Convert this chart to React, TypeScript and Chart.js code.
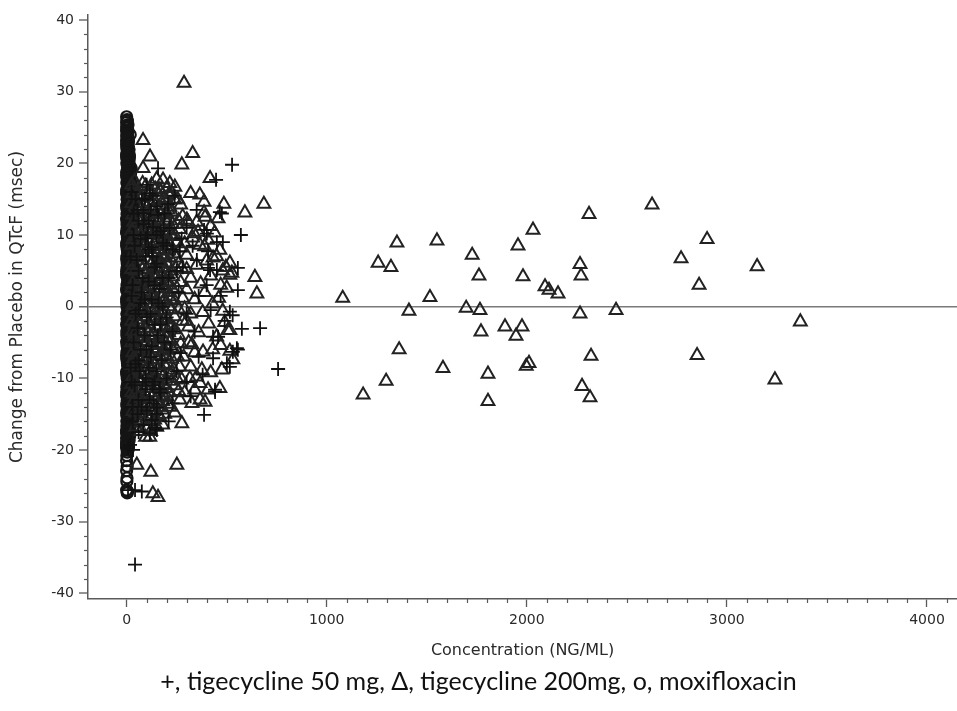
import React, { useEffect, useRef } from 'react';
import { Chart, registerables } from 'chart.js';

Chart.register(...registerables);

// ---- data ----
const xTickValues = [0, 1000, 2000, 3000, 4000];
const yTickValues = [-40, -30, -20, -10, 0, 10, 20, 30, 40];
const xMinorStep = 100;
const yMinorStep = 2;

const captionText = '+, tigecycline 50 mg, \u0394, tigecycline 200mg, o, moxifloxacin';
const xTitle = 'Concentration (NG/ML)';
const yTitle = 'Change from Placebo in QTcF (msec)';

// tigecycline 50 mg (+)
const tigecycline50: [number, number][] = [
  [157, 19.3], [527, 19.8], [447, 17.7], [76, 14.9], [207, 14.3], [466, 13.2], [476, 13.0], [387, 10.7],
  [571, 10.0], [401, 10.2], [451, 9.0], [481, 9.0], [126, 8.3], [407, 7.7], [556, 5.4], [451, 5.1],
  [417, 5.1], [407, 5.4], [556, 2.3], [516, -0.7], [530, -1.2], [576, -3.1], [667, -3.0], [457, -4.2],
  [432, -4.2], [556, -6.0], [531, -6.3], [551, -5.8], [432, -7.2], [516, -8.4], [501, -7.9], [757, -8.7],
  [442, -11.6], [442, -11.9], [387, -15.1], [126, -15.8], [142, -16.9], [116, -17.7], [151, -14.1],
  [151, -17.2], [17, -19.3], [7, -19.7], [32, -20.0], [7, -25.6], [42, -25.6], [76, -25.8], [42, -36.0],
  [116, 15.8], [91, 15.1], [157, 12.8], [132, 11.1], [182, 8.9], [351, 6.5], [266, 7.7],
  [60, 12.0], [95, 9.5], [150, 6.0], [210, 4.0], [260, 2.0], [300, -1.0], [340, -3.5], [190, -5.0],
  [120, -7.0], [250, -9.0], [80, -10.5], [170, -12.0], [320, -12.5], [230, -13.5], [60, -13.0],
  [110, 3.5], [70, 0.5], [180, 0.0], [140, -2.5], [360, 1.5], [400, 3.0], [280, 5.5], [230, 8.0],
  [170, 10.5], [300, 11.0], [350, 13.5], [240, 15.5], [100, 17.0], [50, 6.5], [90, -4.0], [45, -8.0],
  [200, -1.5], [380, -9.5], [270, -6.5], [150, 14.0], [330, 8.5], [420, -0.5], [470, 1.5], [490, -2.0],
  [360, -7.0], [300, -10.5], [130, -11.0], [210, -16.0], [100, -14.5],
  [25, 16.0], [55, 13.5], [85, 11.5], [35, 10.0], [110, 8.0], [60, 5.0], [95, 7.0], [140, 5.5],
  [30, 3.0], [75, 2.0], [125, 1.0], [165, 2.5], [45, -1.0], [100, -1.5], [155, -4.0], [35, -5.0],
  [70, -6.0], [110, -8.5], [150, -9.0], [40, -11.0], [95, -11.5], [135, -13.5], [55, -15.0], [85, -16.5],
  [200, -10.0], [220, -6.0], [215, 11.0], [190, 13.0], [130, 15.5], [60, -17.5], [30, -14.0], [250, 5.0],
  [230, -3.5], [275, 9.5], [20, 7.0], [20, -8.5],
  [45, 15.0], [85, 13.0], [120, 13.5], [40, 8.5], [80, 4.0], [130, 7.0], [160, 0.5], [55, -3.0],
  [125, -5.5], [175, -7.5], [65, -9.0], [115, -13.0], [30, -16.0], [150, -15.0], [180, 4.0], [200, 8.5],
  [140, -10.5], [90, 1.0], [60, -0.5], [105, 10.0],
  [35, 13.0], [70, 9.5], [110, 12.0], [150, 10.0], [25, 1.5], [120, -1.0], [170, -2.5], [60, -7.5],
  [100, -6.0], [25, -10.5], [75, -14.0], [165, -11.5], [185, 11.0], [140, 3.0], [95, -10.0],
];

// tigecycline 200 mg (triangles)
const tigecycline200: [number, number][] = [
  // near cluster, outer points
  [287, 31.2], [82, 23.2], [117, 20.9], [82, 19.3], [276, 19.8], [330, 21.4], [182, 17.7], [417, 17.9],
  [366, 15.6], [387, 14.6], [486, 14.3], [686, 14.3], [591, 13.1], [457, 12.3], [387, 13.1], [307, 11.8],
  [216, 13.9], [241, 14.9], [226, 15.8], [166, 16.3], [241, 16.7], [641, 4.1], [651, 1.8], [516, 6.1],
  [516, 4.4], [366, 8.6], [337, 10.2], [466, 7.9], [432, 6.8], [496, 5.5], [216, 17.2], [207, 13.5],
  [357, 10.4], [407, 9.3], [526, 4.7], [392, 12.5], [301, 12.1],
  [516, -3.3], [531, -7.4], [516, -6.2], [476, -8.8], [466, -11.4], [407, -11.6], [367, -13.0],
  [392, -13.3], [326, -13.5], [376, -8.8], [382, -6.3], [316, -10.0], [326, -5.3], [367, -10.7],
  [116, -18.2], [166, -15.4], [216, -14.0], [266, -13.0], [276, -16.3], [251, -22.1], [51, -22.1],
  [121, -23.1], [131, -26.1], [157, -26.6], [182, -14.4], [506, -3.3],
  // near cluster, interior
  [60, 15.5], [140, 14.8], [190, 15.2], [270, 14.2], [320, 15.8], [100, 13.8],
  [50, 12.5], [120, 12.0], [170, 12.8], [230, 11.5], [280, 12.6], [350, 11.8], [420, 11.2], [80, 11.0],
  [45, 9.8], [90, 9.0], [135, 10.2], [185, 9.4], [240, 10.0], [290, 8.8], [330, 9.6], [390, 8.4],
  [440, 10.3], [65, 8.2], [160, 8.0], [215, 8.6],
  [55, 7.0], [105, 6.5], [150, 7.3], [200, 6.0], [250, 6.8], [300, 7.2], [350, 5.8], [400, 6.4],
  [450, 7.0], [80, 5.2], [175, 5.5], [225, 5.0], [275, 5.4], [480, 5.0],
  [45, 4.0], [95, 3.5], [130, 4.4], [180, 3.0], [230, 4.2], [270, 3.4], [320, 4.0], [370, 3.2],
  [420, 4.3], [470, 3.0], [60, 2.2], [150, 2.5], [210, 2.0], [300, 2.4], [390, 2.0], [500, 2.6],
  [50, 1.0], [100, 0.5], [140, 1.3], [190, -0.5], [240, 0.8], [290, -0.3], [340, 1.0], [380, -0.8],
  [430, 0.4], [480, -0.6], [75, -0.8], [215, 1.4], [320, -1.0], [460, 1.2],
  [40, -2.5], [90, -3.0], [130, -2.0], [170, -3.8], [220, -2.6], [260, -4.0], [310, -2.8], [360, -3.6],
  [410, -2.4], [450, -4.2], [490, -2.2], [65, -4.4], [200, -4.4], [280, -2.0],
  [55, -5.5], [105, -6.0], [150, -5.2], [195, -6.8], [245, -5.8], [285, -7.0], [340, -6.4], [430, -6.0],
  [470, -5.4], [80, -7.2], [130, -7.4], [225, -7.3], [310, -5.0],
  [45, -8.5], [95, -9.0], [140, -8.2], [185, -9.6], [235, -8.8], [275, -10.2], [320, -8.4], [350, -9.8],
  [420, -9.2], [70, -10.3], [160, -10.4], [205, -8.0],
  [60, -11.5], [110, -12.0], [150, -11.2], [200, -12.5], [240, -11.0], [290, -12.0], [340, -11.6],
  [90, -13.0], [180, -13.2],
  [70, -14.5], [120, -15.5], [150, -16.8], [100, -17.0], [240, -14.8],
  // near cluster, dense core
  [40, 17.5], [95, 16.8], [150, 17.8], [200, 16.5],
  [30, 15.8], [75, 15.2], [120, 16.0], [165, 15.0], [210, 15.6], [255, 15.0],
  [45, 14.0], [90, 14.4], [130, 13.6], [180, 14.2], [225, 13.2],
  [30, 12.8], [70, 12.2], [110, 13.0], [145, 12.4], [195, 12.0], [260, 12.0],
  [40, 11.0], [100, 11.4], [130, 10.8], [175, 11.2], [215, 10.6], [265, 10.8],
  [30, 9.4], [70, 9.8], [115, 9.0], [160, 9.6], [205, 9.2], [250, 9.0],
  [40, 7.8], [85, 8.2], [125, 7.6], [190, 7.8], [235, 7.4], [270, 8.2],
  [30, 6.2], [70, 6.8], [125, 6.0], [165, 6.4], [215, 6.8], [260, 6.0],
  [45, 5.0], [100, 5.2], [140, 4.6], [200, 4.8], [245, 5.4], [300, 5.2],
  [30, 3.2], [70, 3.8], [110, 2.8], [160, 3.6], [200, 3.4], [250, 2.6],
  [40, 1.8], [85, 2.0], [120, 1.6], [175, 1.8], [230, 2.4], [280, 1.2],
  [30, 0.2], [70, 0.8], [120, -0.2], [160, 0.4], [210, 0.0], [260, -0.4],
  [45, -1.2], [95, -1.4], [145, -0.8], [185, -1.8], [240, -1.4], [300, -2.0],
  [30, -3.4], [65, -2.6], [110, -3.6], [150, -3.0], [195, -3.0], [240, -3.2],
  [45, -4.8], [90, -5.0], [125, -4.4], [175, -5.4], [220, -4.8], [270, -5.2],
  [30, -6.4], [70, -6.2], [115, -6.6], [165, -6.8], [205, -6.0], [255, -7.0],
  [40, -7.8], [90, -7.6], [120, -8.8], [165, -8.2], [215, -9.2], [265, -8.4],
  [30, -9.8], [75, -9.4], [115, -10.2], [140, -9.6], [190, -10.8], [250, -10.0],
  [45, -11.2], [85, -11.8], [130, -12.4], [175, -11.6], [215, -12.0], [260, -11.8],
  [35, -13.2], [75, -12.6], [120, -13.6], [160, -13.4], [205, -13.6],
  [45, -14.8], [90, -14.2], [135, -14.6], [190, -15.0],
  [55, -16.2], [80, -15.8], [120, -17.4], [95, -18.2],
  [35, 16.5], [80, 17.2], [125, 17.0], [170, 16.0], [60, 13.2], [105, 12.0], [155, 13.6], [200, 13.0],
  [35, 11.8], [85, 10.4], [125, 11.6], [165, 10.0], [205, 11.8], [50, 8.8], [100, 8.0], [145, 9.2],
  [180, 8.4], [225, 9.8], [35, 7.4], [80, 7.6], [120, 5.8], [155, 5.4], [190, 7.0], [40, 5.8],
  [90, 4.6], [130, 3.4], [175, 4.2], [215, 3.0], [55, 3.0], [100, 1.8], [150, 1.0], [190, 2.6],
  [35, 1.4], [80, -0.2], [130, 0.4], [175, -0.6], [225, -0.4], [55, -1.8], [110, -2.4], [160, -2.0],
  [205, -1.8], [40, -3.8], [85, -4.2], [135, -4.0], [185, -4.6], [230, -6.0], [55, -6.8], [100, -7.2],
  [145, -6.4], [190, -8.2], [35, -7.2], [80, -8.4], [125, -9.8], [170, -9.0], [225, -10.4], [55, -10.0],
  [100, -10.6], [150, -12.6], [195, -11.4], [40, -12.2], [80, -13.8], [115, -11.4], [165, -14.0],
  [60, -14.2], [105, -15.4], [140, -15.8], [180, -16.5],
  [25, 17.0], [65, 16.2], [110, 15.4], [145, 16.4], [185, 13.4], [25, 14.4], [70, 13.8], [115, 14.6],
  [160, 12.0], [210, 12.4], [25, 10.6], [60, 10.8], [110, 10.2], [150, 10.8], [195, 10.2], [25, 8.6],
  [60, 7.2], [105, 7.6], [140, 8.6], [175, 7.2], [210, 7.8], [25, 5.2], [65, 5.8], [110, 4.2],
  [150, 6.2], [190, 5.4], [25, 2.6], [65, 1.4], [105, 3.4], [145, 3.8], [185, 0.8], [220, 1.0],
  [25, -0.6], [60, -0.2], [100, -0.6], [140, -1.6], [170, -1.2], [215, -2.8], [25, -2.0], [75, -3.6],
  [120, -3.0], [165, -4.6], [210, -3.6], [25, -5.0], [60, -5.4], [105, -4.8], [140, -5.8], [180, -6.2],
  [25, -8.2], [65, -7.6], [110, -8.0], [155, -7.4], [200, -7.0], [25, -10.8], [60, -9.0], [105, -9.4],
  [150, -10.2], [180, -9.8], [25, -12.0], [65, -12.8], [100, -13.4], [140, -12.0], [185, -12.4],
  [30, -14.6], [75, -15.0], [115, -14.0], [160, -15.2], [45, -16.8], [70, -17.4], [130, -16.0],
  // far points
  [1080, 1.2], [1182, -12.3], [1257, 6.1], [1297, -10.4], [1321, 5.5], [1351, 8.9], [1362, -6.0],
  [1411, -0.6], [1516, 1.3], [1551, 9.2], [1581, -8.6], [1697, -0.2], [1727, 7.2], [1761, 4.3],
  [1766, -0.5], [1771, -3.5], [1806, -9.4], [1806, -13.2], [1891, -2.8], [1946, -4.1], [1956, 8.5],
  [1976, -2.8], [1981, 4.2], [1997, -8.3], [2011, -7.9], [2031, 10.7], [2091, 2.8], [2111, 2.3],
  [2156, 1.8], [2266, 5.9], [2271, 4.3], [2266, -1.0], [2276, -11.1], [2311, 12.9], [2316, -12.7],
  [2321, -6.9], [2446, -0.5], [2626, 14.2], [2771, 6.7], [2861, 3.0], [2851, -6.8], [2901, 9.4],
  [3151, 5.6], [3240, -10.2], [3367, -2.1],
];

// moxifloxacin (circles)
const moxifloxacin: [number, number][] = [
  [0, 26.5], [2, 26.1], [0, 25.7], [3, 25.3], [1, 24.9], [0, 24.5], [4, 24.2], [1, 23.8], [6, 23.5],
  [0, 23.1], [3, 22.8], [8, 22.5], [1, 22.1], [5, 21.8], [10, 21.5], [0, 21.2], [7, 20.9], [3, 20.6],
  [12, 20.3], [1, 20.0], [9, 19.7], [5, 19.4], [14, 19.1], [0, 18.8], [11, 18.5], [4, 18.2], [16, 17.9],
  [7, 17.6], [1, 17.3], [13, 17.0], [18, 16.7], [5, 16.4], [10, 16.1], [0, 15.8], [15, 15.5], [20, 15.2],
  [3, 14.9], [8, 14.6], [12, 14.3], [22, 14.0], [1, 13.7], [17, 13.4], [6, 13.1], [25, 12.8], [10, 12.5],
  [0, 12.2], [14, 11.9], [20, 11.6], [4, 11.3], [9, 11.0], [24, 10.7], [1, 10.4], [16, 10.1], [12, 9.8],
  [6, 9.5], [28, 9.2], [0, 8.9], [19, 8.6], [10, 8.3], [3, 8.0], [23, 7.7], [14, 7.4], [7, 7.1],
  [30, 6.8], [1, 6.5], [17, 6.2], [11, 5.9], [4, 5.6], [26, 5.3], [20, 5.0], [8, 4.7], [0, 4.4],
  [14, 4.1], [31, 3.8], [5, 3.5], [22, 3.2], [10, 2.9], [2, 2.6], [18, 2.3], [27, 2.0], [7, 1.7],
  [13, 1.4], [0, 1.1], [24, 0.8], [16, 0.5], [4, 0.2], [29, -0.1], [9, -0.4], [20, -0.7], [1, -1.0],
  [12, -1.3], [25, -1.6], [6, -1.9], [17, -2.2], [0, -2.5], [32, -2.8], [10, -3.1], [21, -3.4],
  [3, -3.7], [14, -4.0], [27, -4.3], [7, -4.6], [0, -4.9], [19, -5.2], [11, -5.5], [24, -5.8],
  [4, -6.1], [15, -6.4], [30, -6.7], [8, -7.0], [1, -7.3], [22, -7.6], [12, -7.9], [5, -8.2],
  [18, -8.5], [26, -8.8], [0, -9.1], [10, -9.4], [20, -9.7], [3, -10.0], [14, -10.3], [28, -10.6],
  [7, -10.9], [1, -11.2], [17, -11.5], [23, -11.8], [9, -12.1], [0, -12.4], [13, -12.7], [25, -13.0],
  [5, -13.3], [19, -13.6], [2, -13.9], [11, -14.2], [22, -14.5], [0, -14.8], [15, -15.1], [6, -15.4],
  [18, -15.7], [1, -16.0], [10, -16.3], [3, -16.6], [14, -16.9], [0, -17.2], [7, -17.5], [2, -17.8],
  [11, -18.1], [0, -18.4], [5, -18.8], [1, -19.2], [0, -19.7], [3, -20.3], [0, -21.5], [0, -22.9],
  [2, -23.9], [0, -25.6], [3, -26.0],
  [4, 25.9], [1, 25.1], [6, 24.6], [2, 23.6], [9, 23.0], [4, 22.3], [12, 21.9], [2, 21.4], [14, 20.8],
  [6, 20.1], [17, 19.6], [9, 19.0], [20, 18.6], [2, 18.0], [15, 17.4], [22, 17.1], [8, 16.6], [24, 16.0],
  [12, 15.6], [3, 15.0], [26, 14.6], [18, 14.2], [10, 13.6], [28, 13.0], [5, 12.6], [21, 12.2], [15, 11.7],
  [27, 11.2], [2, 10.8], [19, 10.3], [30, 9.9], [8, 9.4], [22, 9.0], [15, 8.6], [32, 8.1], [5, 7.6],
  [26, 7.2], [12, 6.7], [21, 6.3], [33, 5.8], [2, 5.4], [16, 4.9], [28, 4.5], [10, 4.0], [24, 3.6],
  [34, 3.1], [6, 2.7], [19, 2.2], [30, 1.8], [12, 1.3], [3, 0.9], [26, 0.4], [33, 0.0], [15, -0.5],
  [7, -0.9], [28, -1.4], [20, -1.8], [3, -2.3], [34, -2.7], [13, -3.2], [24, -3.6], [8, -4.1], [31, -4.5],
  [17, -5.0], [2, -5.4], [27, -5.9], [12, -6.3], [21, -6.8], [33, -7.2], [6, -7.7], [16, -8.1], [29, -8.6],
  [3, -9.0], [24, -9.5], [13, -9.9], [32, -10.4], [8, -10.8], [20, -11.3], [27, -11.7], [4, -12.2],
  [16, -12.6], [29, -13.1], [9, -13.5], [22, -14.0], [3, -14.4], [13, -14.9], [25, -15.3], [7, -15.8],
  [20, -16.2], [2, -16.7], [12, -17.1], [5, -17.6], [16, -18.0], [8, -18.5], [2, -18.9], [10, -19.4],
  [4, -20.0], [1, -20.8], [3, -22.3], [1, -24.4], [5, -25.8],
  [18, 24.0], [9, 23.3], [0, 22.6], [14, 21.1], [4, 20.4], [23, 19.3], [11, 18.9], [0, 18.3], [26, 17.7],
  [6, 17.1], [20, 16.3], [2, 15.9], [29, 15.4], [11, 14.8], [17, 14.5], [0, 14.1], [24, 13.3], [7, 12.9],
  [31, 12.4], [14, 12.0], [2, 11.5], [22, 11.0], [10, 10.6], [29, 10.1], [4, 9.7], [17, 9.2], [25, 8.8],
  [0, 8.5], [12, 8.1], [32, 7.5], [7, 7.3], [20, 6.9], [3, 6.0], [27, 5.7], [14, 5.2], [0, 4.9],
  [22, 4.3], [9, 3.9], [30, 3.4], [2, 3.0], [17, 2.5], [25, 1.6], [11, 1.0], [0, 0.6], [20, 0.1],
  [6, -0.3], [31, -0.8], [14, -1.2], [2, -1.7], [23, -2.0], [9, -2.6], [29, -3.0], [16, -3.5], [1, -4.0],
  [21, -4.4], [12, -4.8], [33, -5.3], [5, -5.7], [18, -6.2], [26, -6.5], [0, -6.9], [14, -7.4], [23, -7.8],
  [9, -8.3], [30, -8.7], [2, -9.3], [17, -9.6], [26, -10.1], [6, -10.6], [21, -11.0], [12, -11.4],
  [0, -11.9], [30, -12.3], [15, -12.9], [3, -13.1], [24, -13.8], [8, -14.1], [19, -14.7], [1, -15.2],
  [28, -15.5], [11, -16.1], [4, -16.5], [17, -16.8], [0, -17.6], [9, -17.9], [3, -18.3], [13, -18.6],
  [6, -19.0], [0, -19.5], [8, -19.9],
  [7, 25.4], [3, 24.0], [10, 22.0], [0, 20.9], [8, 20.0], [16, 18.4], [5, 17.8], [19, 17.2], [11, 16.8],
  [0, 16.3], [23, 15.9], [14, 15.3], [6, 14.4], [27, 13.9], [19, 13.5], [2, 12.9], [12, 12.4], [24, 11.9],
  [7, 11.4], [17, 10.9], [0, 10.3], [26, 9.6], [12, 9.1], [5, 8.7], [21, 8.3], [9, 7.8], [29, 7.4],
  [1, 6.9], [16, 6.5], [24, 6.1], [7, 5.5], [13, 5.0], [31, 4.6], [3, 4.1], [19, 3.7], [13, 3.3],
  [27, 2.8], [0, 2.3], [15, 1.9], [8, 1.4], [22, 1.1], [29, 0.5], [2, 0.0], [11, -0.2], [18, -0.8],
  [25, -1.1], [5, -1.5], [16, -2.0], [30, -2.4], [8, -2.9], [20, -3.1], [1, -3.4], [26, -3.9], [11, -4.3],
  [5, -4.7], [23, -5.1], [14, -5.6], [29, -6.0], [1, -6.4], [9, -6.8], [25, -7.1], [17, -7.5], [4, -7.9],
  [12, -8.4], [21, -8.9], [1, -9.5], [16, -9.9], [28, -10.2], [10, -10.5], [4, -11.0], [24, -11.5],
  [13, -11.9], [20, -12.4], [6, -12.8], [1, -13.6], [16, -14.0], [9, -14.5], [26, -14.9], [4, -15.3],
  [13, -15.7], [22, -16.1], [7, -16.6], [16, -17.2], [2, -17.4], [10, -18.0], [5, -18.4], [0, -19.0],
  [6, -19.6],
];

const toPoints = (arr: [number, number][]) => arr.map(([x, y]) => ({ x, y }));

const AXIS_COLOR = '#5a5a5a';
const TEXT_COLOR = '#2a2a2a';
const TICK_FONT = { family: 'DejaVu Sans', size: 14 };
const X_TITLE_FONT = { family: 'DejaVu Sans', size: 16 };
const Y_TITLE_FONT = { family: 'DejaVu Sans', size: 17 };

const minorTicksPlugin = {
  id: 'minorTicks',
  afterDraw(chart: any) {
    const { ctx, chartArea } = chart;
    const xs = chart.scales.x;
    const ys = chart.scales.y;
    ctx.save();
    ctx.strokeStyle = AXIS_COLOR;
    ctx.lineWidth = 1.2;
    for (let v = xTickValues[0]; v <= xs.max; v += xMinorStep) {
      if (xTickValues.includes(v)) continue;
      const px = Math.round(xs.getPixelForValue(v)) + 0.5;
      ctx.beginPath();
      ctx.moveTo(px, chartArea.bottom);
      ctx.lineTo(px, chartArea.bottom + 4);
      ctx.stroke();
    }
    for (let v = yTickValues[0]; v <= yTickValues[yTickValues.length - 1]; v += yMinorStep) {
      if (yTickValues.includes(v)) continue;
      const py = Math.round(ys.getPixelForValue(v)) + 0.5;
      ctx.beginPath();
      ctx.moveTo(chartArea.left, py);
      ctx.lineTo(chartArea.left - 4, py);
      ctx.stroke();
    }
    ctx.restore();
  },
};

export default function App() {
  const canvasRef = useRef<HTMLCanvasElement | null>(null);

  useEffect(() => {
    const canvas = canvasRef.current;
    if (!canvas) return;
    const chart = new Chart(canvas, {
      type: 'scatter',
      data: {
        datasets: [
          {
            label: 'tigecycline 50 mg',
            data: toPoints(tigecycline50),
            pointStyle: 'cross',
            pointRadius: 7,
            borderColor: '#111',
            backgroundColor: 'rgba(0,0,0,0)',
            borderWidth: 1.8,
          },
          {
            label: 'tigecycline 200mg',
            data: toPoints(tigecycline200),
            pointStyle: 'triangle',
            pointRadius: 7.4,
            borderColor: '#222',
            backgroundColor: 'rgba(0,0,0,0)',
            borderWidth: 2,
          },
          {
            label: 'moxifloxacin',
            data: toPoints(moxifloxacin),
            pointStyle: 'circle',
            pointRadius: 5.5,
            borderColor: '#151515',
            backgroundColor: 'rgba(0,0,0,0)',
            borderWidth: 2.2,
          },
        ],
      },
      options: {
        responsive: false,
        animation: false,
        devicePixelRatio: 1,
        layout: { autoPadding: false, padding: { top: 15, right: 0, bottom: 0, left: 0 } },
        plugins: {
          legend: { display: false },
          tooltip: { enabled: false },
          title: {
            display: true,
            position: 'bottom',
            text: captionText,
            color: '#111',
            font: { family: 'Lato', size: 25, weight: 'normal' },
            padding: { top: 0, bottom: 14 },
          },
        },
        scales: {
          x: {
            type: 'linear',
            min: -193,
            max: 4150,
            afterFit: (scale: any) => {
              scale.height = 711 - 599 - (25 * 1.2 + 14);
              scale.paddingLeft = 0;
              scale.paddingRight = 0;
            },
            afterBuildTicks: (scale: any) => {
              scale.ticks = xTickValues.map((v) => ({ value: v }));
            },
            border: { display: true, color: AXIS_COLOR, width: 1.5 },
            grid: {
              drawOnChartArea: false,
              drawTicks: true,
              tickLength: 8,
              tickColor: AXIS_COLOR,
              tickWidth: 1.3,
            },
            ticks: {
              color: TEXT_COLOR,
              font: TICK_FONT,
              padding: 5,
              maxRotation: 0,
              callback: (v: any) => String(v),
            },
            title: {
              display: true,
              text: xTitle,
              color: TEXT_COLOR,
              font: X_TITLE_FONT,
              padding: { top: 0, bottom: 7 },
            },
          },
          y: {
            type: 'linear',
            min: -40.8,
            max: 40.7,
            afterFit: (scale: any) => {
              scale.width = 88;
              scale.paddingTop = 0;
              scale.paddingBottom = 0;
            },
            afterBuildTicks: (scale: any) => {
              scale.ticks = yTickValues.map((v) => ({ value: v }));
            },
            border: { display: true, color: AXIS_COLOR, width: 1.5 },
            grid: {
              drawOnChartArea: true,
              drawTicks: true,
              tickLength: 9,
              tickColor: AXIS_COLOR,
              tickWidth: 1.3,
              color: (ctx: any) => (ctx.tick && ctx.tick.value === 0 ? '#7a7a7a' : 'rgba(0,0,0,0)'),
              lineWidth: (ctx: any) => (ctx.tick && ctx.tick.value === 0 ? 1.6 : 0),
            },
            ticks: {
              color: TEXT_COLOR,
              font: TICK_FONT,
              padding: 5,
              callback: (v: any) => String(v),
            },
            title: {
              display: true,
              text: yTitle,
              color: TEXT_COLOR,
              font: Y_TITLE_FONT,
              padding: { top: 7, bottom: 0 },
            },
          },
        },
      },
      plugins: [minorTicksPlugin],
    } as any);
    return () => chart.destroy();
  }, []);

  return (
    <div style={{ position: 'absolute', left: 0, top: 0, width: 957, height: 711, background: '#fff' }}>
      <canvas ref={canvasRef} width={957} height={711} style={{ display: 'block' }} />
    </div>
  );
}
